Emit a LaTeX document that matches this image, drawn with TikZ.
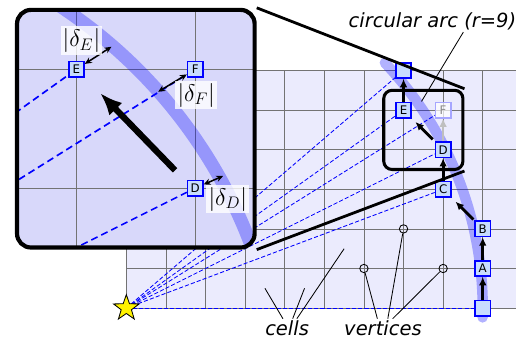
\documentclass[tikz,border=0pt]{standalone}
\usepackage{fontspec}
\setmainfont{DejaVu Sans}
\usetikzlibrary{arrows.meta,shapes.geometric}
\definecolor{gridbg}{RGB}{235,235,253}
\definecolor{zoombg}{RGB}{216,216,250}
\definecolor{boxfill}{RGB}{200,220,255}
\begin{document}
\begin{tikzpicture}[x=1cm,y=1cm,
  cellbox/.style={draw=blue,fill=boxfill,line width=1.1pt,minimum size=11pt,inner sep=0pt,font=\fontsize{8.5}{10}\selectfont},
  ghostbox/.style={cellbox,draw=blue!35,fill=white,fill opacity=0.7,text opacity=1,text=black!45},
  ray/.style={blue,dash pattern=on 3pt off 1.5pt,line width=0.6pt},
  zoomray/.style={blue,dash pattern=on 5pt off 3pt,line width=1.2pt},
  steparrow/.style={line width=2pt,-{Latex[length=6pt,width=5.5pt]}},
  deltaarrow/.style={line width=1.1pt,{Stealth[length=5pt,width=4.5pt]}-{Stealth[length=5pt,width=4.5pt]}},
  deltalabel/.style={fill=white,fill opacity=0.8,text opacity=1,inner sep=1.5pt,font=\fontsize{18}{22}\selectfont},
  note/.style={inner sep=1pt,font=\fontsize{14}{17}\selectfont\itshape},
  arcband/.style={blue,opacity=0.3,line cap=round},
  vertex/.style={circle,draw,line width=0.6pt,minimum size=6pt,inner sep=0pt}]
\useasboundingbox (-3.19,-0.81) rectangle (9.84,7.78);
\fill[gridbg] (0,0) rectangle (9.84,6);
\draw[black!55,line width=0.5pt] (0,0) grid (9.84,6);
\draw[arcband,line width=7.5pt] (-1.5:9) arc[start angle=-1.5,end angle=43.5,radius=9];

\node[cellbox] (P) at (9,0) {};
\node[cellbox] (A) at (9,1) {A};
\node[cellbox] (B) at (9,2) {B};
\node[cellbox] (C) at (8,3) {C};
\node[cellbox] (D) at (8,4) {D};
\node[cellbox] (E) at (7,5) {E};
\node[ghostbox] (F) at (8,5) {F};
\node[cellbox] (G) at (7,6) {};
\coordinate (O) at (0,0);

\draw[ray] (O) -- (P);
\draw[ray] (O) -- (C);
\draw[ray] (O) -- (D);
\draw[ray] (O) -- (F);
\draw[ray] (O) -- (E);
\draw[ray] (O) -- (G);
\node[star,star points=5,star point ratio=2.5,draw,line width=0.6pt,fill=yellow,minimum size=0.68cm,inner sep=0pt] (star) at (0,0) {};

\draw[steparrow] (P) -- (A);
\draw[steparrow] (A) -- (B);
\draw[steparrow,shorten <=1pt,shorten >=4pt] (B) -- (C);
\draw[steparrow] (C) -- (D);
\draw[steparrow,shorten <=2pt,shorten >=3.5pt] (D) -- (E);
\draw[steparrow,black!25,line width=1.5pt] (D) -- (F);
\draw[steparrow] (E) -- (G);

\node[vertex] (v1) at (6,1) {};
\node[vertex] (v2) at (7,2) {};
\node[vertex] (v3) at (8,1) {};
\coordinate (c1) at (3.5,0.5);
\coordinate (c2) at (4.5,0.5);
\coordinate (c3) at (5.5,1.5);
\node[note] (cells) at (4.06,-0.5) {cells};
\node[note] (verts) at (6.48,-0.5) {vertices};
\draw[line width=0.6pt] ([xshift=-3pt]cells.north) -- (c1);
\draw[line width=0.6pt] ([xshift=4pt]cells.north) -- (c2);
\draw[line width=0.6pt] ([xshift=7pt]cells.north) -- (c3);
\draw[line width=0.6pt] ([xshift=-4pt]verts.north) -- (v1);
\draw[line width=0.6pt] ([xshift=3.5pt]verts.north) -- (v2);
\draw[line width=0.6pt] ([xshift=7pt]verts.north) -- (v3);

\node[note] (arclabel) at (7.73,7.23) {circular arc (r=9)};
\coordinate (arcpt) at (35:9.1);
\draw[line width=0.6pt] ([xshift=0.78cm]arclabel.south) -- (arcpt);

\node[draw,line width=2.2pt,rounded corners=6pt,minimum size=2cm,inner sep=0pt] (spot) at (7.5,4.5) {};

\begin{scope}
\clip[rounded corners=10pt] (-2.76,1.53) rectangle (3.24,7.53);
\begin{scope}[shift={(0.24,4.53)},scale=3,shift={(-7.5,-4.5)}]
\fill[zoombg] (6.4,3.4) rectangle (8.6,5.6);
\draw[black!55,line width=0.5pt] (6,3) grid (9,6);
\draw[arcband,line width=9.5pt] ([shift={(4.576,2.056)}]15:4.16) arc[start angle=15,end angle=62,radius=4.16];
\node[cellbox] (zE) at (7,5) {E};
\node[cellbox] (zF) at (8,5) {F};
\node[cellbox] (zD) at (8,4) {D};
\coordinate (zO) at (0,0);
\draw[zoomray] (zO) -- (zE);
\draw[zoomray] (zO) -- (zF);
\draw[zoomray] (zO) -- (zD);
\coordinate (zfrom) at (7.83,4.15);
\coordinate (zto) at (7.2,4.8);
\draw[line width=4.5pt,-{Latex[length=16pt,width=13pt]}] (zfrom) -- (zto);
\coordinate (tE) at (7.295,5.190);
\coordinate (tF) at (7.688,4.811);
\coordinate (tD) at (8.235,4.102);
\draw[deltaarrow] (zE) -- (tE);
\draw[deltaarrow] (zF) -- (tF);
\draw[deltaarrow] (zD) -- (tD);
\node[deltalabel] (dE) at (7.042,5.242) {$|\delta_E|$};
\node[deltalabel] (dF) at (8.008,4.781) {$|\delta_F|$};
\node[deltalabel] (dD) at (8.274,3.907) {$|\delta_D|$};
\end{scope}
\end{scope}
\node[draw,line width=3pt,rounded corners=10pt,minimum size=6cm,inner sep=0pt] (lens) at (0.24,4.53) {};

\draw[line width=2pt] (lens.north east) -- (spot.north east);
\draw[line width=2pt] (lens.south east) -- (spot.south east);
\end{tikzpicture}
\end{document}
